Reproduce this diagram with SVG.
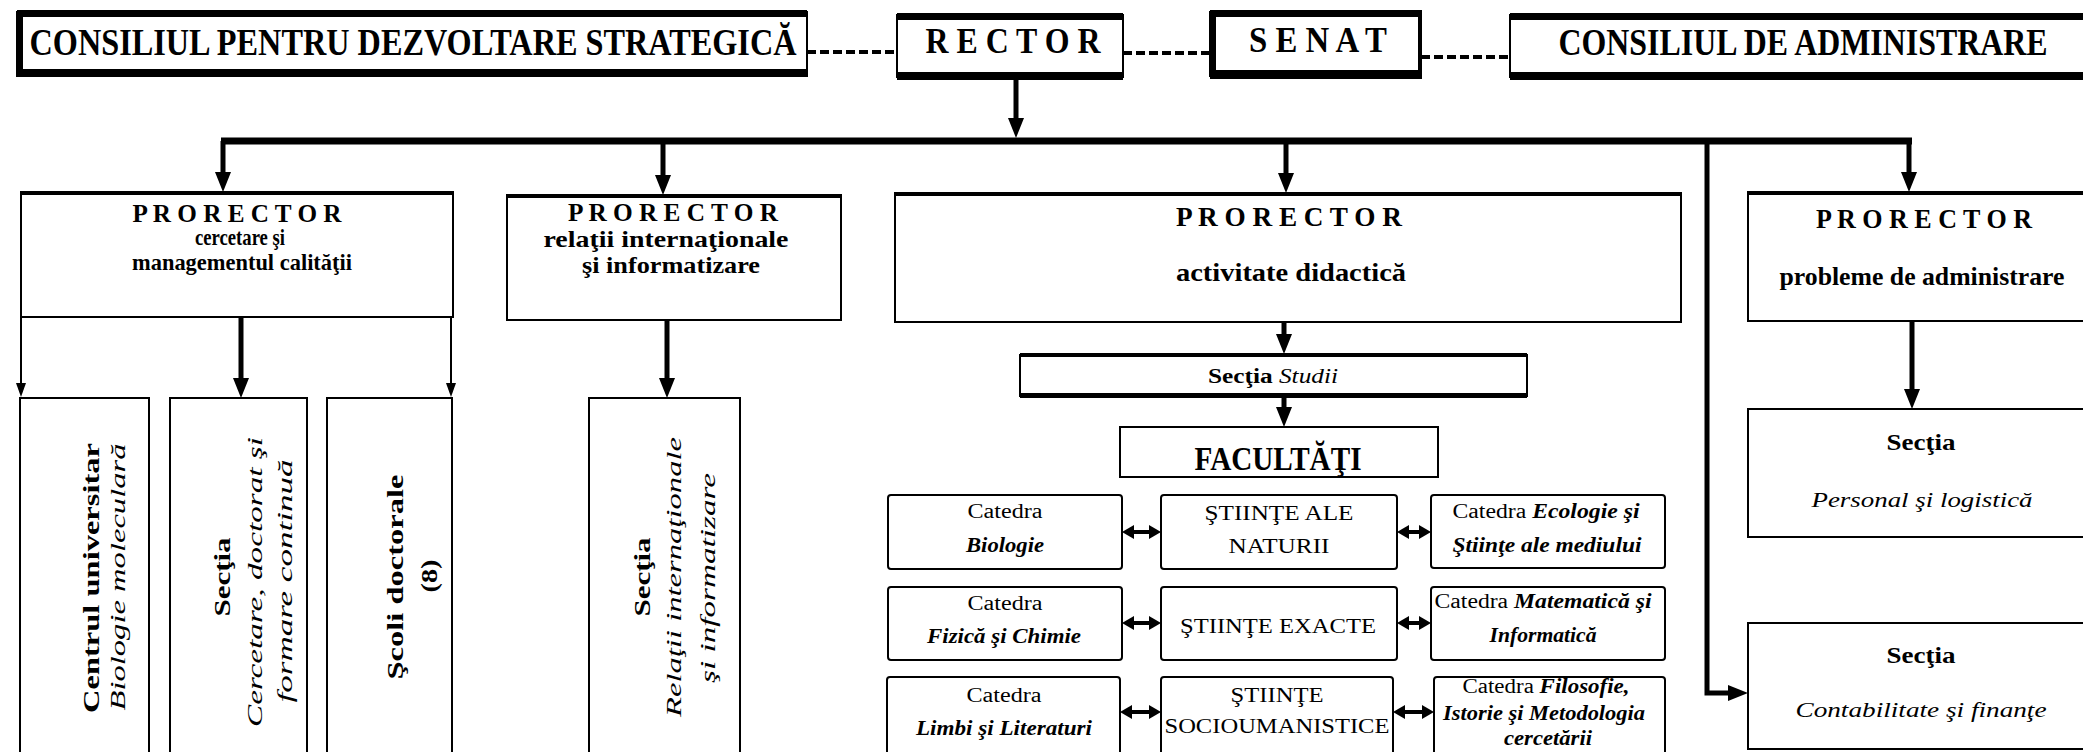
<svg xmlns="http://www.w3.org/2000/svg" width="2083" height="752" viewBox="0 0 2083 752">
<style>
.b{fill:#fff;stroke:#000;stroke-width:2}
.bar{fill:#000}
.t{font-family:"Liberation Serif","Times New Roman",serif;fill:#000;text-anchor:middle}
.bd{font-weight:bold}
.it{font-style:italic}
.bi{font-weight:bold;font-style:italic}
.thick{fill:none;stroke:#000;stroke-width:5}
.bus{fill:none;stroke:#000;stroke-width:7}
.thin{fill:none;stroke:#000;stroke-width:2}
.dash{fill:none;stroke:#000;stroke-width:4;stroke-dasharray:9 4}
.dbl{fill:none;stroke:#000;stroke-width:4}
</style>
<defs>
<marker id="a1" markerUnits="userSpaceOnUse" viewBox="0 0 20 16" markerWidth="20" markerHeight="16" refX="1" refY="8" orient="auto"><path d="M0,0 L20,8 L0,16 z" fill="#000"/></marker>
<marker id="a2" markerUnits="userSpaceOnUse" viewBox="0 0 14 10" markerWidth="14" markerHeight="10" refX="1" refY="5" orient="auto"><path d="M0,0 L14,5 L0,10 z" fill="#000"/></marker>
<marker id="a3" markerUnits="userSpaceOnUse" viewBox="0 0 12 14" markerWidth="12" markerHeight="14" refX="1" refY="7" orient="auto-start-reverse"><path d="M0,0 L12,7 L0,14 z" fill="#000"/></marker>
</defs>

<g id="connectors">
<line class="dash" x1="807" y1="52" x2="897" y2="52"/>
<line class="dash" x1="1123" y1="53" x2="1210" y2="53"/>
<line class="dash" x1="1421" y1="57" x2="1510" y2="57"/>
<line class="thick" x1="1016" y1="80" x2="1016" y2="119" marker-end="url(#a1)"/>
<line class="bus" x1="221" y1="141" x2="1912" y2="141"/>
<line class="thick" x1="223" y1="141" x2="223" y2="173" marker-end="url(#a1)"/>
<line class="thick" x1="663" y1="141" x2="663" y2="176" marker-end="url(#a1)"/>
<line class="thick" x1="1286" y1="141" x2="1286" y2="174" marker-end="url(#a1)"/>
<line class="thick" x1="1909" y1="141" x2="1909" y2="173" marker-end="url(#a1)"/>
<polyline class="thick" points="1707,141 1707,693 1729,693" marker-end="url(#a1)"/>
<line class="thin" x1="21" y1="317" x2="21" y2="384" marker-end="url(#a2)"/>
<line class="thick" x1="241" y1="317" x2="241" y2="379" marker-end="url(#a1)"/>
<line class="thin" x1="451" y1="317" x2="451" y2="384" marker-end="url(#a2)"/>
<line class="thick" x1="667" y1="320" x2="667" y2="379" marker-end="url(#a1)"/>
<line class="thick" x1="1284" y1="322" x2="1284" y2="335" marker-end="url(#a1)"/>
<line class="thick" x1="1284" y1="397" x2="1284" y2="408" marker-end="url(#a1)"/>
<line class="thick" x1="1912" y1="321" x2="1912" y2="390" marker-end="url(#a1)"/>
<line class="dbl" x1="1133" y1="532" x2="1150" y2="532" marker-start="url(#a3)" marker-end="url(#a3)"/>
<line class="dbl" x1="1408" y1="532" x2="1420" y2="532" marker-start="url(#a3)" marker-end="url(#a3)"/>
<line class="dbl" x1="1133" y1="623" x2="1150" y2="623" marker-start="url(#a3)" marker-end="url(#a3)"/>
<line class="dbl" x1="1408" y1="623" x2="1420" y2="623" marker-start="url(#a3)" marker-end="url(#a3)"/>
<line class="dbl" x1="1131" y1="712" x2="1150" y2="712" marker-start="url(#a3)" marker-end="url(#a3)"/>
<line class="dbl" x1="1404" y1="712" x2="1423" y2="712" marker-start="url(#a3)" marker-end="url(#a3)"/>
</g>

<g id="consiliu-strategic">
<rect class="b" x="17" y="12" width="790" height="64"/>
<rect class="bar" x="17" y="10" width="790" height="7"/>
<rect class="bar" x="17" y="69" width="790" height="8"/>
<rect class="bar" x="17" y="10" width="6" height="67"/>
<text class="t bd" x="413" y="55" font-size="38" textLength="767" lengthAdjust="spacingAndGlyphs">CONSILIUL PENTRU DEZVOLTARE STRATEGICĂ</text>
</g>
<g id="rector">
<rect class="b" x="897" y="15" width="226" height="62"/>
<rect class="bar" x="897" y="13" width="226" height="7"/>
<rect class="bar" x="897" y="72" width="226" height="8"/>
<text class="t bd" x="1013" y="53" font-size="36" textLength="175" lengthAdjust="spacingAndGlyphs">R E C T O R</text>
</g>
<g id="senat">
<rect class="b" x="1210" y="12" width="211" height="64"/>
<rect class="bar" x="1210" y="10" width="211" height="7"/>
<rect class="bar" x="1210" y="70" width="211" height="9"/>
<rect class="bar" x="1210" y="10" width="6" height="69"/>
<rect class="bar" x="1418" y="10" width="4" height="69"/>
<text class="t bd" x="1318" y="52" font-size="36" textLength="138" lengthAdjust="spacingAndGlyphs">S E N A T</text>
</g>
<g id="consiliu-administrare">
<rect class="b" x="1510" y="15" width="590" height="62"/>
<rect class="bar" x="1510" y="13" width="590" height="7"/>
<rect class="bar" x="1510" y="72" width="590" height="8"/>
<text class="t bd" x="1803" y="55" font-size="38" textLength="489" lengthAdjust="spacingAndGlyphs">CONSILIUL DE ADMINISTRARE</text>
</g>

<g id="prorector-cercetare">
<rect class="b" x="21" y="192" width="432" height="125"/>
<rect class="bar" x="21" y="191" width="432" height="4"/>
<text class="t bd" x="237" y="222" font-size="26" textLength="209" lengthAdjust="spacingAndGlyphs">P R O R E C T O R</text>
<text class="t bd" x="240" y="245" font-size="23" textLength="90" lengthAdjust="spacingAndGlyphs">cercetare şi</text>
<text class="t bd" x="242" y="270" font-size="23" textLength="220" lengthAdjust="spacingAndGlyphs">managementul calităţii</text>
</g>
<g id="prorector-relatii">
<rect class="b" x="507" y="195" width="334" height="125"/>
<rect class="bar" x="507" y="194" width="334" height="4"/>
<text class="t bd" x="673" y="221" font-size="26" textLength="210" lengthAdjust="spacingAndGlyphs">P R O R E C T O R</text>
<text class="t bd" x="666" y="247" font-size="23" textLength="245" lengthAdjust="spacingAndGlyphs">relaţii internaţionale</text>
<text class="t bd" x="671" y="273" font-size="23" textLength="178" lengthAdjust="spacingAndGlyphs">şi informatizare</text>
</g>
<g id="prorector-didactica">
<rect class="b" x="895" y="193" width="786" height="129"/>
<rect class="bar" x="895" y="192" width="786" height="4"/>
<text class="t bd" x="1289" y="226" font-size="27" textLength="226" lengthAdjust="spacingAndGlyphs">P R O R E C T O R</text>
<text class="t bd" x="1291" y="281" font-size="25" textLength="230" lengthAdjust="spacingAndGlyphs">activitate didactică</text>
</g>
<g id="prorector-administrare">
<rect class="b" x="1748" y="192" width="345" height="129"/>
<rect class="bar" x="1748" y="191" width="345" height="4"/>
<text class="t bd" x="1924" y="228" font-size="27" textLength="216" lengthAdjust="spacingAndGlyphs">P R O R E C T O R</text>
<text class="t bd" x="1922" y="285" font-size="25" textLength="285" lengthAdjust="spacingAndGlyphs">probleme de administrare</text>
</g>

<g id="centrul-universitar">
<rect class="b" x="20" y="398" width="129" height="370"/>
<text class="t bd" transform="translate(99,578) rotate(-90)" font-size="24" textLength="270" lengthAdjust="spacingAndGlyphs">Centrul universitar</text>
<text class="t it" transform="translate(125,577) rotate(-90)" font-size="21" textLength="267" lengthAdjust="spacingAndGlyphs">Biologie moleculară</text>
</g>
<g id="sectia-cercetare">
<rect class="b" x="170" y="398" width="137" height="370"/>
<text class="t bd" transform="translate(230,577) rotate(-90)" font-size="24" textLength="79" lengthAdjust="spacingAndGlyphs">Secţia</text>
<text class="t it" transform="translate(262,582) rotate(-90)" font-size="21" textLength="290" lengthAdjust="spacingAndGlyphs">Cercetare, doctorat  şi</text>
<text class="t it" transform="translate(292,581) rotate(-90)" font-size="21" textLength="243" lengthAdjust="spacingAndGlyphs">formare continuă</text>
</g>
<g id="scoli-doctorale">
<rect class="b" x="327" y="398" width="125" height="370"/>
<text class="t bd" transform="translate(403,577) rotate(-90)" font-size="24" textLength="205" lengthAdjust="spacingAndGlyphs">Şcoli doctorale</text>
<text class="t bd" transform="translate(437,576) rotate(-90)" font-size="24" textLength="33" lengthAdjust="spacingAndGlyphs">(8)</text>
</g>
<g id="sectia-relatii">
<rect class="b" x="589" y="398" width="151" height="370"/>
<text class="t bd" transform="translate(650,577) rotate(-90)" font-size="24" textLength="79" lengthAdjust="spacingAndGlyphs">Secţia</text>
<text class="t it" transform="translate(681,577) rotate(-90)" font-size="21" textLength="280" lengthAdjust="spacingAndGlyphs">Relaţii internaţionale</text>
<text class="t it" transform="translate(715,578) rotate(-90)" font-size="21" textLength="210" lengthAdjust="spacingAndGlyphs">şi informatizare</text>
</g>

<g id="sectia-studii">
<rect class="b" x="1020" y="355" width="507" height="41"/>
<rect class="bar" x="1020" y="353" width="507" height="4"/>
<rect class="bar" x="1020" y="393" width="507" height="5"/>
<text class="t" x="1273" y="383" font-size="20" textLength="130" lengthAdjust="spacingAndGlyphs"><tspan class="bd">Secţia</tspan> <tspan class="it">Studii</tspan></text>
</g>
<g id="facultati">
<rect class="b" x="1120" y="427" width="318" height="50"/>
<text class="t bd" x="1278" y="470" font-size="34" textLength="167" lengthAdjust="spacingAndGlyphs">FACULTĂŢI</text>
</g>

<g id="catedra-biologie">
<rect class="b" x="888" y="495" width="234" height="74" rx="3"/>
<text class="t" x="1005" y="518" font-size="20" textLength="75" lengthAdjust="spacingAndGlyphs">Catedra</text>
<text class="t bi" x="1005" y="552" font-size="20" textLength="78" lengthAdjust="spacingAndGlyphs">Biologie</text>
</g>
<g id="stiinte-naturii">
<rect class="b" x="1161" y="495" width="236" height="74" rx="3"/>
<text class="t" x="1279" y="520" font-size="22" textLength="149" lengthAdjust="spacingAndGlyphs">ŞTIINŢE ALE</text>
<text class="t" x="1279" y="553" font-size="22" textLength="101" lengthAdjust="spacingAndGlyphs">NATURII</text>
</g>
<g id="catedra-ecologie">
<rect class="b" x="1431" y="495" width="234" height="73" rx="3"/>
<text class="t" x="1546" y="518" font-size="20" textLength="187" lengthAdjust="spacingAndGlyphs">Catedra <tspan class="bi">Ecologie şi</tspan></text>
<text class="t bi" x="1547" y="552" font-size="20" textLength="189" lengthAdjust="spacingAndGlyphs">Ştiinţe ale mediului</text>
</g>

<g id="catedra-fizica">
<rect class="b" x="888" y="587" width="234" height="73" rx="3"/>
<text class="t" x="1005" y="610" font-size="20" textLength="75" lengthAdjust="spacingAndGlyphs">Catedra</text>
<text class="t bi" x="1004" y="643" font-size="20" textLength="154" lengthAdjust="spacingAndGlyphs">Fizică şi Chimie</text>
</g>
<g id="stiinte-exacte">
<rect class="b" x="1161" y="587" width="236" height="73" rx="3"/>
<text class="t" x="1278" y="633" font-size="22" textLength="196" lengthAdjust="spacingAndGlyphs">ŞTIINŢE EXACTE</text>
</g>
<g id="catedra-matematica">
<rect class="b" x="1431" y="587" width="234" height="73" rx="3"/>
<text class="t" x="1543" y="608" font-size="20" textLength="217" lengthAdjust="spacingAndGlyphs">Catedra <tspan class="bi">Matematică şi</tspan></text>
<text class="t bi" x="1543" y="642" font-size="20" textLength="107" lengthAdjust="spacingAndGlyphs">Informatică</text>
</g>

<g id="catedra-limbi">
<rect class="b" x="887" y="677" width="233" height="90" rx="3"/>
<text class="t" x="1004" y="702" font-size="20" textLength="75" lengthAdjust="spacingAndGlyphs">Catedra</text>
<text class="t bi" x="1004" y="735" font-size="20" textLength="176" lengthAdjust="spacingAndGlyphs">Limbi şi Literaturi</text>
</g>
<g id="stiinte-socioumanistice">
<rect class="b" x="1161" y="677" width="232" height="90" rx="3"/>
<text class="t" x="1277" y="702" font-size="22" textLength="93" lengthAdjust="spacingAndGlyphs">ŞTIINŢE</text>
<text class="t" x="1277" y="733" font-size="22" textLength="225" lengthAdjust="spacingAndGlyphs">SOCIOUMANISTICE</text>
</g>
<g id="catedra-filosofie">
<rect class="b" x="1434" y="677" width="231" height="90" rx="3"/>
<text class="t" x="1546" y="693" font-size="20" textLength="167" lengthAdjust="spacingAndGlyphs">Catedra <tspan class="bi">Filosofie,</tspan></text>
<text class="t bi" x="1544" y="720" font-size="20" textLength="202" lengthAdjust="spacingAndGlyphs">Istorie şi Metodologia</text>
<text class="t bi" x="1548" y="745" font-size="20" textLength="88" lengthAdjust="spacingAndGlyphs">cercetării</text>
</g>

<g id="sectia-personal">
<rect class="b" x="1748" y="409" width="345" height="128"/>
<text class="t bd" x="1921" y="450" font-size="24" textLength="69" lengthAdjust="spacingAndGlyphs">Secţia</text>
<text class="t it" x="1922" y="507" font-size="22" textLength="221" lengthAdjust="spacingAndGlyphs">Personal şi logistică</text>
</g>
<g id="sectia-contabilitate">
<rect class="b" x="1748" y="623" width="345" height="126"/>
<text class="t bd" x="1921" y="663" font-size="24" textLength="69" lengthAdjust="spacingAndGlyphs">Secţia</text>
<text class="t it" x="1921" y="717" font-size="22" textLength="251" lengthAdjust="spacingAndGlyphs">Contabilitate şi finanţe</text>
</g>
</svg>
